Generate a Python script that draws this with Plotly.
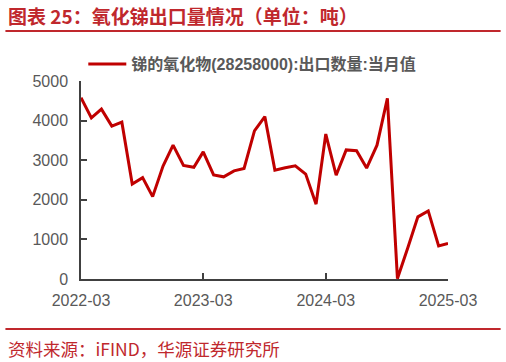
import plotly.graph_objects as go
import pandas as pd

months = [d.strftime("%Y-%m-01") for d in pd.date_range("2022-03-01", "2025-03-01", freq="MS")]
values = [4580, 4070, 4290, 3860, 3960, 2400, 2560, 2080, 2850, 3380, 2870, 2820,
          3210, 2630, 2580, 2730, 2790, 3740, 4100, 2750, 2810, 2860, 2650, 1890,
          3660, 2620, 3260, 3240, 2800, 3380, 4560, 10, 790, 1570, 1720, 835, 900]
tick_vals = ["2022-03-01", "2023-03-01", "2024-03-01", "2025-03-01"]
tick_text = ["2022-03", "2023-03", "2024-03", "2025-03"]
y_ticks = [0, 1000, 2000, 3000, 4000, 5000]
series_name = "<b>锑的氧化物(28258000):出口数量:当月值</b>"
title_text = "图表 25：氧化锑出口量情况（单位：吨）"
source_text = "资料来源：iFIND，华源证券研究所"

W, H = 506, 362
L, R, T, B = 80.7, 448.3, 81, 279

def px(x):
    return (x - L) / (R - L)

def py(y):
    return (B - y) / (B - T)

fig = go.Figure()
fig.add_trace(go.Scatter(x=months, y=values, mode="lines", name=series_name,
                         line=dict(color="#C00000", width=3)))

fig.update_layout(
    width=W, height=H,
    margin=dict(l=L, r=W - R, t=T, b=H - B, pad=0),
    paper_bgcolor="white", plot_bgcolor="white",
    showlegend=True,
    legend=dict(x=px(83), y=py(64), xanchor="left", yanchor="middle",
                font=dict(family="Liberation Sans, Noto Sans CJK SC", size=16, color="#595959"),
                bgcolor="rgba(0,0,0,0)", itemwidth=38),
    xaxis=dict(range=["2022-03-01", "2025-03-01"], tickvals=tick_vals, ticktext=tick_text,
               showgrid=False, zeroline=False, showline=True, linecolor="#404040", linewidth=1.5,
               ticks="inside", ticklen=6, tickcolor="#404040", tickwidth=1.5,
               ticklabelstandoff=6,
               tickfont=dict(family="Liberation Sans", size=16, color="#595959")),
    yaxis=dict(range=[0, 5000], tickvals=y_ticks, showgrid=False, zeroline=False,
               showline=True, linecolor="#404040", linewidth=1.5,
               ticks="inside", ticklen=6, tickcolor="#404040", tickwidth=1.5,
               ticklabelstandoff=8,
               tickfont=dict(family="Liberation Sans", size=16, color="#595959")),
    shapes=[
        dict(type="line", xref="paper", yref="paper", x0=px(5), x1=px(501), y0=py(31), y1=py(31),
             line=dict(color="#C0282D", width=2)),
        dict(type="line", xref="paper", yref="paper", x0=px(5), x1=px(501), y0=py(329), y1=py(329),
             line=dict(color="#C0282D", width=2)),
    ],
    annotations=[
        dict(text="<b>" + title_text + "</b>", xref="paper", yref="paper", x=px(6), y=py(15),
             xanchor="left", yanchor="middle", showarrow=False,
             font=dict(family="Noto Sans CJK SC", size=19, color="#C0282D")),
        dict(text=source_text, xref="paper", yref="paper", x=px(6), y=py(348),
             xanchor="left", yanchor="middle", showarrow=False,
             font=dict(family="Noto Sans CJK SC", size=17.5, color="#C0282D")),
    ],
)

fig.write_html("out.html", config={"displayModeBar": False},
               post_script="document.body.style.margin='0';document.body.style.overflow='hidden';")
